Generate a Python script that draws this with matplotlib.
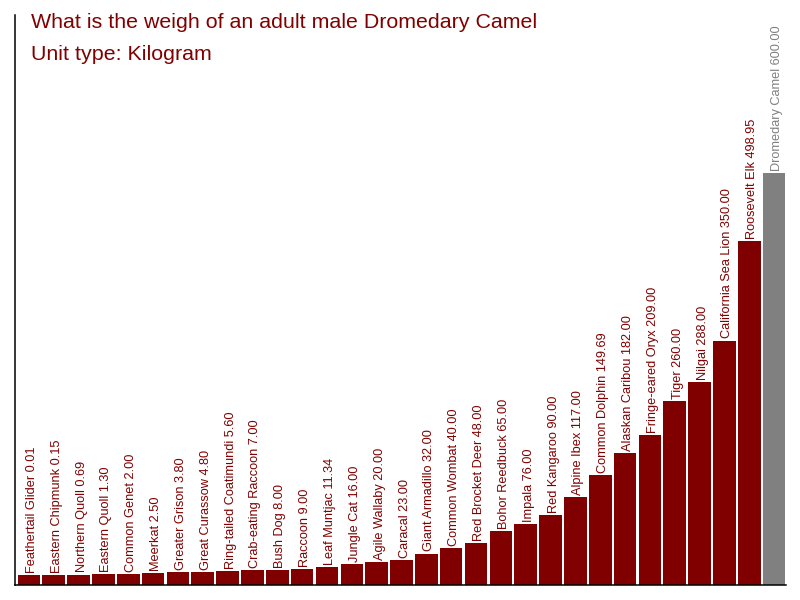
import matplotlib.pyplot as plt
import numpy as np

plt.rcParams['font.family'] = ['Liberation Sans', 'DejaVu Sans']

animals = ['Feathertail Glider', 'Eastern Chipmunk', 'Northern Quoll', 'Eastern Quoll',
           'Common Genet', 'Meerkat', 'Greater Grison', 'Great Curassow',
           'Ring-tailed Coatimundi', 'Crab-eating Raccoon', 'Bush Dog', 'Raccoon',
           'Leaf Muntjac', 'Jungle Cat', 'Agile Wallaby', 'Caracal', 'Giant Armadillo',
           'Common Wombat', 'Red Brocket Deer', 'Bohor Reedbuck', 'Impala', 'Red Kangaroo',
           'Alpine Ibex', 'Common Dolphin', 'Alaskan Caribou', 'Fringe-eared Oryx',
           'Tiger', 'Nilgai', 'California Sea Lion', 'Roosevelt Elk', 'Dromedary Camel']
weights = [0.01, 0.15, 0.69, 1.30, 2.00, 2.50, 3.80, 4.80, 5.60, 7.00, 8.00, 9.00,
           11.34, 16.00, 20.00, 23.00, 32.00, 40.00, 48.00, 65.00, 76.00, 90.00,
           117.00, 149.69, 182.00, 209.00, 260.00, 288.00, 350.00, 498.95, 600.00]
highlight = 'Dromedary Camel'

red = '#800000'
grey = '#808080'
base = 14.9  # bars start a little below zero

fig = plt.figure(figsize=(8, 6), dpi=100)
ax = fig.add_axes([15/800, 15/600, 771/800, 570/600])

x = np.arange(len(animals))
colors = [grey if a == highlight else red for a in animals]
w = 0.91
ax.bar(x, np.array(weights) + base, bottom=-base, width=w, color=colors)

for i, (a, v) in enumerate(zip(animals, weights)):
    ax.annotate('%s %.2f' % (a, v), xy=(i - w/2, v), xytext=(6.0, 1.5),
                textcoords='offset points', rotation=90, rotation_mode='anchor',
                ha='left', va='top', fontsize=9.2, color=colors[i], clip_on=False)

ax.set_xlim(-0.56, len(animals) - 1 + 0.48)
ax.set_ylim(-base, 835.8)
ax.set_xticks([])
ax.set_yticks([])
ax.spines['top'].set_visible(False)
ax.spines['right'].set_visible(False)
ax.spines['left'].set_linewidth(1.1)
ax.spines['bottom'].set_linewidth(1.1)

fig.text(31/800, 1 - 23/600, 'What is the weigh of an adult male Dromedary Camel',
         color=red, fontsize=15.4, va='center', ha='left')
fig.text(31/800, 1 - 54/600, 'Unit type: Kilogram',
         color=red, fontsize=15.4, va='center', ha='left')

plt.savefig('out.png', dpi=100)
